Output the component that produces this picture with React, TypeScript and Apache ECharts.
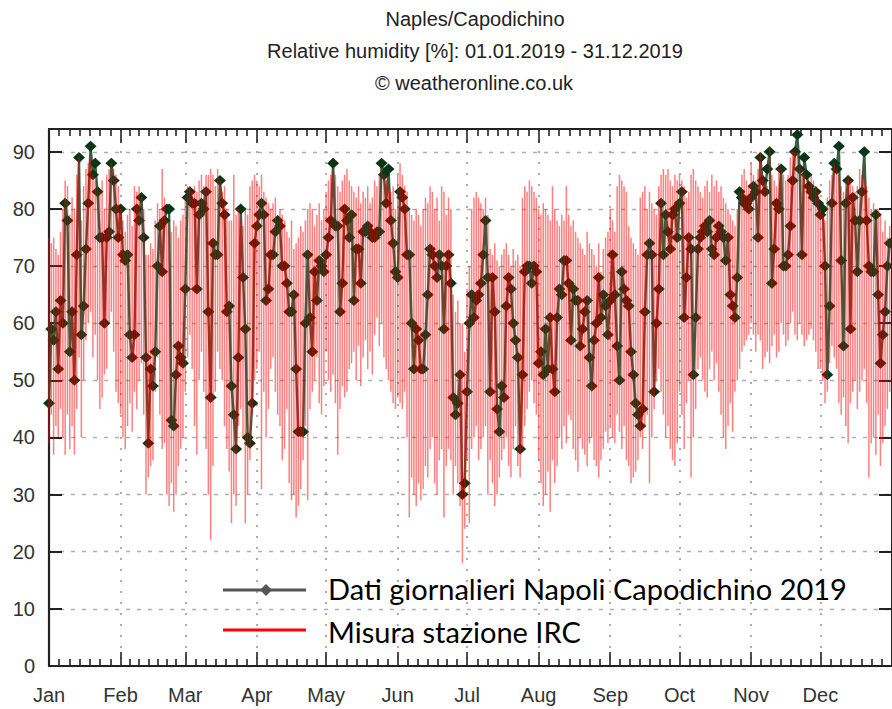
import { useEffect, useRef } from "react";
import * as echarts from "echarts";

// Month labels and the day-of-year (0-based) on which each month starts, 2019
const monthNames = ["Jan", "Feb", "Mar", "Apr", "May", "Jun", "Jul", "Aug", "Sep", "Oct", "Nov", "Dec"];
const monthStartDay = [0, 31, 59, 90, 120, 151, 181, 212, 243, 273, 304, 334];
const yearLength = 365;
const humidityTicks = [0, 10, 20, 30, 40, 50, 60, 70, 80, 90];

// Daily relative humidity, Napoli Capodichino 2019 (%), one row per month
const dailyMean = [
  46, 59, 57, 62, 52, 64, 60, 81, 78, 55, 62, 50, 72, 89, 58, 63, 73, 81, 91, 86, 88, 83, 75, 75, 60, 75, 76, 88, 85, 80, 75,
  80, 72, 71, 72, 58, 54, 58, 80, 78, 82, 75, 54, 39, 52, 49, 55, 70, 77, 69, 78, 80, 80, 43, 42, 51, 56, 54, 53,
  66, 82, 83, 81, 81, 66, 79, 81, 80, 83, 62, 47, 74, 72, 72, 85, 81, 79, 62, 63, 49, 44, 38, 54, 80, 68, 59, 40, 39, 46, 74,
  77, 79, 81, 79, 64, 66, 72, 72, 76, 78, 77, 70, 70, 67, 62, 62, 65, 52, 41, 41, 41, 60, 72, 61, 55, 69, 64, 71, 70, 69,
  72, 75, 78, 88, 77, 77, 62, 67, 80, 78, 75, 79, 64, 73, 73, 67, 76, 76, 77, 76, 75, 75, 76, 76, 88, 86, 81, 87, 78, 74, 69,
  68, 83, 82, 80, 72, 72, 60, 52, 59, 57, 52, 52, 58, 65, 73, 72, 70, 68, 72, 70, 59, 70, 72, 67, 47, 44, 46, 51, 30, 32,
  48, 60, 65, 61, 64, 65, 67, 72, 78, 68, 48, 68, 62, 45, 41, 49, 47, 63, 68, 66, 60, 57, 54, 38, 51, 69, 70, 70, 67, 70, 69,
  53, 55, 51, 59, 52, 61, 52, 48, 61, 66, 65, 71, 71, 67, 57, 66, 64, 64, 56, 59, 62, 64, 54, 49, 57, 60, 68, 61, 65, 63, 58,
  64, 72, 65, 56, 50, 69, 66, 64, 63, 55, 51, 46, 44, 42, 45, 62, 72, 74, 72, 48, 60, 66, 81, 72, 79, 76, 73, 79, 80, 75,
  81, 83, 61, 68, 75, 73, 51, 61, 73, 75, 76, 77, 76, 78, 73, 72, 75, 77, 76, 75, 71, 75, 65, 63, 61, 68, 83, 82, 81, 81, 80,
  82, 84, 83, 75, 89, 85, 83, 87, 90, 67, 73, 81, 80, 87, 70, 70, 72, 77, 85, 90, 93, 87, 72, 89, 86, 84, 83, 82, 83, 81,
  79, 80, 70, 51, 63, 81, 88, 87, 91, 71, 56, 81, 85, 59, 82, 78, 69, 78, 83, 90, 78, 70, 69, 69, 79, 65, 53, 58, 62, 70, 74,
];

// IRC station: daily maximum and minimum relative humidity (%)
const ircMax = [
  75, 74, 75, 73, 72, 76, 80, 85, 84, 79, 82, 80, 86, 89, 78, 84, 87, 88, 89, 86, 85, 84, 83, 85, 80, 86, 87, 88, 87, 86, 84,
  80, 78, 76, 79, 80, 77, 84, 83, 84, 82, 80, 72, 72, 74, 73, 78, 81, 80, 87, 82, 78, 77, 76, 78, 77, 75, 78, 79,
  82, 84, 84, 83, 84, 83, 85, 86, 84, 86, 86, 87, 86, 84, 87, 85, 83, 84, 80, 78, 78, 86, 79, 80, 78, 77, 80, 79, 84, 85, 86,
  85, 84, 86, 83, 82, 81, 80, 81, 82, 78, 80, 79, 78, 76, 75, 78, 73, 74, 75, 77, 76, 78, 80, 81, 80, 77, 79, 81, 78, 80,
  83, 85, 86, 87, 86, 84, 83, 85, 86, 87, 85, 84, 83, 82, 84, 81, 83, 82, 84, 81, 82, 85, 84, 86, 87, 86, 85, 84, 83, 84, 80,
  86, 88, 86, 84, 83, 80, 79, 78, 80, 79, 77, 80, 82, 81, 84, 83, 80, 82, 78, 84, 83, 79, 82, 80, 65, 62, 64, 60, 60, 55,
  66, 70, 80, 82, 83, 82, 81, 80, 82, 79, 73, 72, 74, 71, 70, 72, 73, 74, 72, 70, 73, 71, 72, 70, 82, 84, 83, 85, 84, 83, 82,
  80, 79, 81, 80, 79, 78, 84, 80, 78, 77, 79, 78, 84, 79, 77, 78, 76, 75, 74, 73, 72, 76, 74, 73, 72, 70, 74, 69, 73, 75, 76,
  80, 78, 76, 84, 86, 85, 84, 83, 77, 75, 74, 73, 72, 82, 83, 84, 80, 83, 81, 80, 79, 84, 86, 87, 86, 87, 85, 84, 86, 85,
  86, 85, 84, 82, 83, 86, 87, 85, 84, 83, 82, 84, 85, 83, 86, 84, 85, 83, 84, 82, 81, 80, 79, 78, 77, 80, 83, 86, 87, 85, 84,
  88, 86, 85, 87, 90, 86, 85, 84, 91, 86, 85, 84, 88, 87, 86, 85, 86, 89, 90, 90, 90, 88, 87, 86, 85, 84, 86, 85, 84, 83,
  80, 79, 78, 82, 85, 86, 88, 87, 86, 84, 83, 85, 86, 85, 84, 83, 84, 87, 86, 85, 84, 82, 80, 81, 78, 80, 79, 76, 78, 75, 77,
];

const ircMin = [
  39, 44, 37, 42, 40, 45, 40, 37, 44, 38, 42, 37, 45, 54, 40, 50, 57, 60, 62, 54, 58, 50, 45, 47, 51, 52, 60, 62, 55, 48, 46,
  44, 40, 38, 42, 46, 41, 48, 45, 50, 53, 44, 30, 33, 35, 36, 48, 54, 44, 38, 39, 30, 28, 32, 27, 30, 35, 38, 40,
  48, 54, 58, 52, 42, 37, 50, 55, 48, 38, 30, 22, 35, 48, 55, 52, 50, 42, 38, 34, 25, 30, 28, 42, 45, 40, 25, 30, 36, 44, 50,
  52, 55, 31, 48, 40, 45, 52, 54, 48, 44, 42, 36, 38, 45, 32, 29, 30, 26, 28, 31, 36, 42, 29, 45, 48, 50, 54, 46, 44, 49,
  55, 50, 48, 51, 46, 37, 45, 49, 47, 48, 52, 53, 55, 50, 56, 49, 54, 57, 52, 55, 51, 58, 61, 56, 60, 54, 52, 50, 48, 46, 45,
  47, 46, 45, 48, 40, 26, 33, 30, 28, 32, 29, 31, 35, 33, 38, 40, 32, 30, 36, 38, 26, 35, 38, 36, 30, 35, 32, 28, 18, 24,
  36, 25, 38, 40, 42, 36, 38, 40, 42, 30, 36, 32, 28, 30, 33, 36, 38, 40, 35, 33, 38, 42, 35, 33, 38, 42, 45, 48, 50, 46, 44,
  36, 32, 28, 30, 34, 27, 36, 32, 35, 40, 38, 42, 39, 44, 43, 38, 36, 34, 40, 38, 37, 35, 39, 40, 36, 35, 33, 36, 38, 41, 39,
  42, 40, 39, 44, 41, 38, 42, 36, 35, 32, 33, 34, 36, 40, 38, 42, 44, 32, 40, 45, 50, 52, 48, 44, 40, 42, 38, 36, 35, 39,
  48, 44, 38, 46, 50, 33, 40, 45, 52, 54, 50, 48, 47, 52, 55, 50, 53, 48, 44, 40, 38, 42, 46, 41, 48, 50, 52, 55, 56, 57, 58,
  60, 58, 55, 58, 57, 52, 54, 55, 53, 56, 58, 54, 55, 60, 58, 56, 57, 60, 62, 58, 57, 60, 58, 56, 57, 58, 59, 57, 55, 52,
  52, 50, 46, 48, 53, 56, 54, 52, 46, 44, 47, 42, 39, 46, 48, 50, 45, 48, 50, 52, 46, 33, 39, 40, 37, 44, 35, 39, 42, 45, 48,
];

// Six minor ticks split every month into seven equal parts
const minorTickDays: number[] = [];
const bounds = [...monthStartDay, yearLength];
for (let m = 0; m < 12; m++) {
  const len = bounds[m + 1] - bounds[m];
  for (let k = 1; k < 7; k++) minorTickDays.push(bounds[m] + (k * len) / 7);
}

const AXIS_COLOR = "#222";
const LABEL_COLOR = "#333";
const SANS = '"Liberation Sans", Arial, sans-serif';

const dayAxis = (position: "top" | "bottom", ticks: number[], length: number, main: boolean) => ({
  type: "value",
  min: 0,
  max: yearLength,
  position,
  axisLine: { show: main, onZero: false, lineStyle: { color: AXIS_COLOR, width: 2.2 } },
  axisTick: { show: true, inside: true, length, customValues: ticks, lineStyle: { color: AXIS_COLOR, width: 1.6 } },
  axisLabel:
    main && position === "bottom"
      ? {
          show: true,
          customValues: monthStartDay,
          formatter: (v: number) => monthNames[monthStartDay.indexOf(v)] ?? "",
          color: LABEL_COLOR,
          fontFamily: SANS,
          fontSize: 20,
          margin: 19,
        }
      : { show: false },
  splitLine:
    main && position === "bottom"
      ? { show: true, lineStyle: { color: "#999", width: 1.6, type: [2, 9] } }
      : { show: false },
});

const option = {
  animation: false,
  backgroundColor: "#fff",
  grid: { left: 49, top: 129, width: 853, height: 537, containLabel: false },
  xAxis: [
    dayAxis("bottom", monthStartDay, 14, true),
    dayAxis("bottom", minorTickDays, 7, false),
    dayAxis("top", monthStartDay, 14, true),
    dayAxis("top", minorTickDays, 7, false),
  ],
  yAxis: [
    {
      type: "value",
      min: 0,
      max: 94,
      position: "left",
      axisLine: { show: true, onZero: false, lineStyle: { color: AXIS_COLOR, width: 2.2 } },
      axisTick: { show: true, inside: true, length: 13, customValues: humidityTicks, lineStyle: { color: AXIS_COLOR, width: 2 } },
      axisLabel: { show: true, customValues: humidityTicks, color: LABEL_COLOR, fontFamily: SANS, fontSize: 20, margin: 14 },
      splitLine: { show: true, lineStyle: { color: "#b0b0b0", width: 1.4, type: [4, 7] } },
    },
    {
      type: "value",
      min: 0,
      max: 94,
      position: "right",
      axisLine: { show: true, onZero: false, lineStyle: { color: AXIS_COLOR, width: 2 } },
      axisTick: { show: true, inside: true, length: 13, customValues: humidityTicks, lineStyle: { color: AXIS_COLOR, width: 2 } },
      axisLabel: { show: false },
      splitLine: { show: false },
    },
  ],
  series: [
    {
      name: "Dati giornalieri Napoli Capodichino 2019",
      type: "line",
      xAxisIndex: 0,
      yAxisIndex: 0,
      data: dailyMean.map((v, i) => [i, v]),
      symbol: "diamond",
      symbolSize: [12, 11],
      lineStyle: { color: "#264d2e", width: 2.4, opacity: 0.9 },
      itemStyle: { color: "#0a3616" },
      z: 2,
    },
    {
      name: "Misura stazione IRC",
      type: "custom",
      xAxisIndex: 0,
      yAxisIndex: 0,
      data: ircMax.map((hi, i) => [i, ircMin[i], hi]),
      encode: { x: 0, y: [1, 2] },
      renderItem: (_params: any, api: any) => {
        const lo = api.coord([api.value(0), api.value(1)]);
        const hi = api.coord([api.value(0), api.value(2)]);
        return {
          type: "line",
          shape: { x1: lo[0], y1: lo[1], x2: hi[0], y2: hi[1] },
          style: { stroke: "rgba(255,0,0,0.5)", lineWidth: 1.5 },
        };
      },
      z: 3,
    },
  ],
  graphic: [
    {
      type: "text",
      x: 475,
      y: 19,
      style: { text: "Naples/Capodichino", fill: "#222", font: `20px ${SANS}`, align: "center", verticalAlign: "middle" },
    },
    {
      type: "text",
      x: 475,
      y: 51,
      style: {
        text: "Relative humidity [%]: 01.01.2019 - 31.12.2019",
        fill: "#222",
        font: `20px ${SANS}`,
        align: "center",
        verticalAlign: "middle",
      },
    },
    {
      type: "text",
      x: 474,
      y: 83,
      style: { text: "© weatheronline.co.uk", fill: "#222", font: `20px ${SANS}`, align: "center", verticalAlign: "middle" },
    },
    // legend
    { type: "line", shape: { x1: 223, y1: 590, x2: 306, y2: 590 }, style: { stroke: "#555", lineWidth: 3 }, z: 10 },
    {
      type: "polygon",
      shape: { points: [[266, 584], [272, 590], [266, 596], [260, 590]] },
      style: { fill: "#555" },
      z: 10,
    },
    { type: "line", shape: { x1: 223, y1: 630, x2: 306, y2: 630 }, style: { stroke: "#ff0000", lineWidth: 3 }, z: 10 },
    {
      type: "text",
      x: 328,
      y: 588,
      style: { text: "Dati giornalieri Napoli Capodichino 2019", fill: "#000", font: "29px Lato, sans-serif", verticalAlign: "middle" },
      z: 10,
    },
    {
      type: "text",
      x: 328,
      y: 631,
      style: { text: "Misura stazione IRC", fill: "#000", font: "29px Lato, sans-serif", verticalAlign: "middle" },
      z: 10,
    },
  ],
};

export default function App() {
  const ref = useRef<HTMLDivElement>(null);
  useEffect(() => {
    if (!ref.current) return;
    const chart = echarts.init(ref.current, undefined, { renderer: "svg" });
    chart.setOption(option as any);
    return () => chart.dispose();
  }, []);
  return (
    <div
      ref={ref}
      style={{ position: "fixed", left: 0, top: 0, width: 892, height: 709, overflow: "hidden", background: "#fff" }}
    />
  );
}
